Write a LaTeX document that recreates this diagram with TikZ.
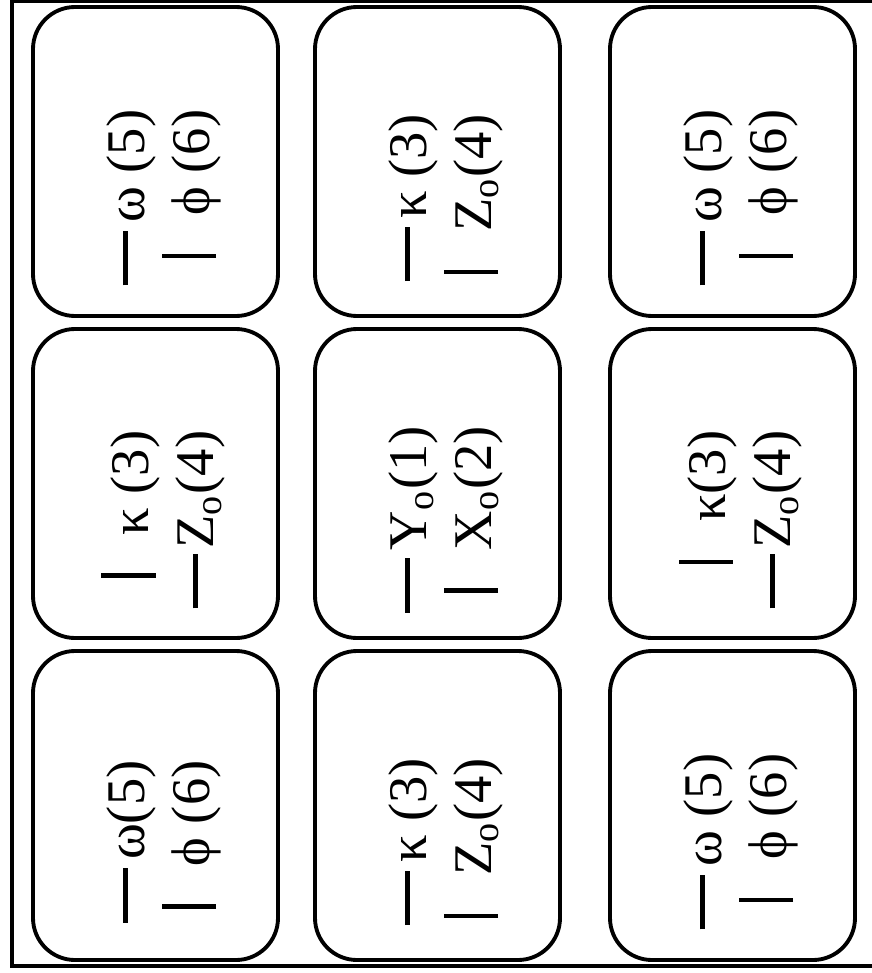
\documentclass[tikz,border=0pt]{standalone}
\usepackage{fontspec}
\setmainfont{Liberation Serif}
\usetikzlibrary{positioning}

% marks drawn in front of each entry
\newcommand{\dashmark}{\rule[0.3em]{1em}{0.09em}}
\newcommand{\barmark}{\rule[-0.13em]{0.08em}{1em}}

\begin{document}
\begin{tikzpicture}[x=1cm, y=1cm]
    % Styles
    \tikzstyle{card} = [rectangle, draw, line width=1.1pt, rounded corners=0.42cm,
        minimum width=2.45cm, minimum height=3.09cm, inner sep=0pt, outer sep=0pt]
    \tikzstyle{cardtext} = [rotate=90, align=right, inner sep=0pt,
        font=\fontsize{15.5}{18.5}\selectfont]
    \tikzstyle{frame} = [line width=1pt]

    \useasboundingbox (0,0) rectangle (8.72,-9.73);

    % outer frame
    \draw [frame] (8.72,-0.01) -| (0.12,-9.66) -- (8.72,-9.66);

    % === TOP ROW ===
    \node [card] (c11) at (1.555,-1.615) {};
    \node [card, right=0.37cm of c11] (c12) {};
    \node [card, right=0.50cm of c12] (c13) {};

    % === MIDDLE ROW ===
    \node [card, below=0.13cm of c11] (c21) {};
    \node [card, below=0.13cm of c12] (c22) {};
    \node [card, below=0.13cm of c13] (c23) {};

    % === BOTTOM ROW ===
    \node [card, below=0.13cm of c21] (c31) {};
    \node [card, below=0.13cm of c22] (c32) {};
    \node [card, below=0.13cm of c23] (c33) {};

    % === TEXTS ===
    \node [cardtext] (t11) at ([shift={(0.08,-0.36)}]c11.center)
        {\dashmark\hspace{0.15em}ω (5)\\\barmark\hspace{0.7em}ϕ (6)};
    \node [cardtext] (t12) at ([shift={(0.08,-0.36)}]c12.center)
        {\dashmark\hspace{0.15em}κ (3)\\\barmark\hspace{0.7em}Z\textsubscript{o}(4)};
    \node [cardtext] (t13) at ([shift={(0.08,-0.36)}]c13.center)
        {\dashmark\hspace{0.15em}ω (5)\\\barmark\hspace{0.7em}ϕ (6)};

    \node [cardtext] (t21) at ([shift={(0.08,-0.36)}]c21.center)
        {\barmark\hspace{0.7em}κ (3)\\\dashmark\hspace{0.1em}Z\textsubscript{o}(4)};
    \node [cardtext] (t22) at ([shift={(0.08,-0.36)}]c22.center)
        {\dashmark\hspace{0.15em}Y\textsubscript{o}(1)\\\barmark\hspace{0.7em}X\textsubscript{o}(2)};
    \node [cardtext] (t23) at ([shift={(0.08,-0.36)}]c23.center)
        {\barmark\hspace{0.7em}κ(3)\\\dashmark\hspace{0.1em}Z\textsubscript{o}(4)};

    \node [cardtext] (t31) at ([shift={(0.08,-0.36)}]c31.center)
        {\dashmark\hspace{0.15em}ω(5)\\\barmark\hspace{0.7em}ϕ (6)};
    \node [cardtext] (t32) at ([shift={(0.08,-0.36)}]c32.center)
        {\dashmark\hspace{0.15em}κ (3)\\\barmark\hspace{0.7em}Z\textsubscript{o}(4)};
    \node [cardtext] (t33) at ([shift={(0.08,-0.36)}]c33.center)
        {\dashmark\hspace{0.15em}ω (5)\\\barmark\hspace{0.7em}ϕ (6)};

\end{tikzpicture}
\end{document}
